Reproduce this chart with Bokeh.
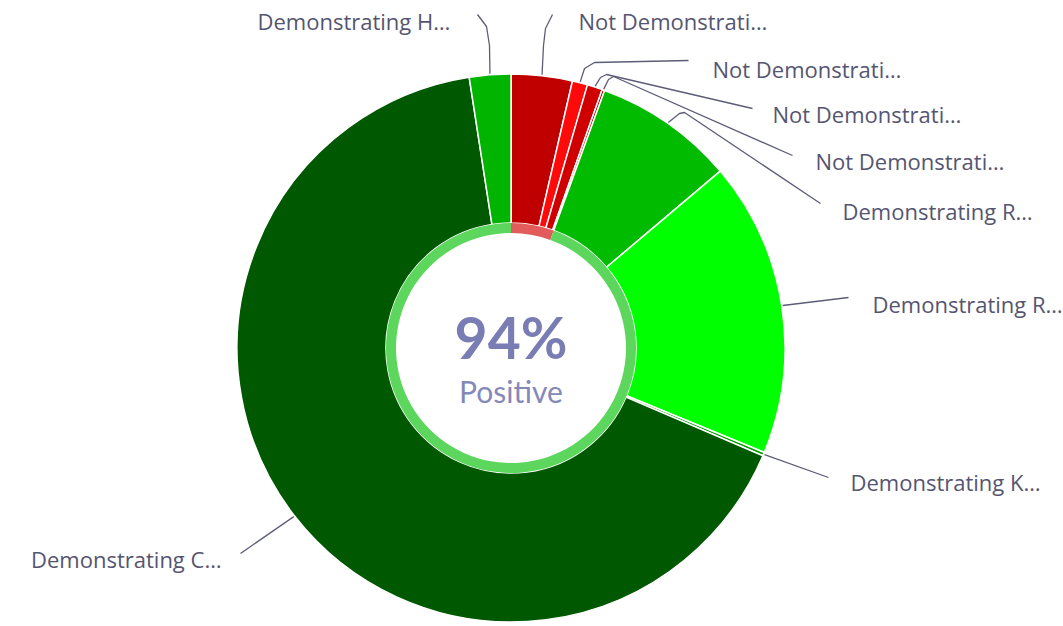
import math
from bokeh.plotting import figure
from bokeh.models import Range1d
from bokeh.embed import file_html
from bokeh.resources import INLINE
from bokeh.core.properties import value

# ---------------- data ----------------
labels = ["Not Demonstrati…", "Not Demonstrati…", "Not Demonstrati…", "Not Demonstrati…",
          "Demonstrating R…", "Demonstrating R…", "Demonstrating K…",
          "Demonstrating C…", "Demonstrating H…"]
values = [3.6, 0.9, 0.9, 0.15, 8.28, 17.4, 0.2, 66.13, 2.44]
positive = [False, False, False, False, True, True, True, True, True]
colors = ["#c00000", "#ff0a0a", "#d00000", "#b00000",
          "#00bb00", "#00ff00", "#00a000", "#005800", "#00b400"]
center_caption = "Positive"

# ---------------- layout (reference pixel coords, y down) ----------------
W, H = 1063, 626
CX, CY_REF = 510.5, 347.5
R_OUT, R_IN = 274, 125
RING_IN = 115
# label anchor (x, y, align) and connector intermediate points
label_pos = [(578, 20, "left"), (712, 68, "left"), (772, 113, "left"), (815, 160, "left"),
             (842, 210, "left"), (872, 303, "left"), (850, 481, "left"),
             (221, 558, "right"), (257, 20, "left")]
connector_mid = [
    [(543, 45), (545, 28), (552, 14)],
    [(584, 68), (594, 62), (688, 60)],
    [(600, 77), (606, 74), (752, 108)],
    [(608, 79), (613, 76), (792, 155)],
    [(679, 113), (684, 112), (820, 203)],
    [(848, 297)],
    [(828, 477)],
    [(240, 553)],
    [(489, 45), (486, 26), (477, 14)],
]

def yd(y_ref):
    return H - y_ref

CY = yd(CY_REF)

p = figure(width=W, height=H, output_backend="svg", toolbar_location=None,
           x_range=Range1d(0, W), y_range=Range1d(0, H),
           min_border=0, outline_line_color=None, background_fill_color="white")
p.axis.visible = False
p.grid.visible = False

total = sum(values)
cum = 0.0
mids = []
for v, c in zip(values, colors):
    a = cum / total
    b = (cum + v) / total
    cum += v
    mids.append((a + b) / 2)
    p.annular_wedge(x=CX, y=CY, inner_radius=R_IN, outer_radius=R_OUT,
                    start_angle=math.pi / 2 - b * 2 * math.pi,
                    end_angle=math.pi / 2 - a * 2 * math.pi,
                    direction="anticlock", fill_color=c,
                    line_color="white", line_width=1.5)

# inner ring: negative share vs positive share
neg = sum(v for v, pos in zip(values, positive) if not pos) / total
p.annular_wedge(x=CX, y=CY, inner_radius=RING_IN, outer_radius=R_IN,
                start_angle=math.pi / 2 - neg * 2 * math.pi, end_angle=math.pi / 2,
                direction="anticlock", fill_color="#e25c5c", line_color=None)
p.annular_wedge(x=CX, y=CY, inner_radius=RING_IN, outer_radius=R_IN,
                start_angle=math.pi / 2 - 2 * math.pi, end_angle=math.pi / 2 - neg * 2 * math.pi,
                direction="anticlock", fill_color="#5cd65c", line_color=None)

# connectors
xs, ys = [], []
for m, mids_pts in zip(mids, connector_mid):
    ang = m * 2 * math.pi
    sx = CX + (R_OUT + 1) * math.sin(ang)
    sy = CY_REF - (R_OUT + 1) * math.cos(ang)
    px = [sx] + [q[0] for q in mids_pts]
    py = [yd(sy)] + [yd(q[1]) for q in mids_pts]
    xs.append(px)
    ys.append(py)
p.multi_line(xs=xs, ys=ys, line_color="#5c5c78", line_width=1.3)

# labels
for (lx, ly, al), t in zip(label_pos, labels):
    p.text(x=[lx], y=[yd(ly)], text=[t], text_align=al, text_baseline="middle",
           text_font=value("Open Sans"), text_font_size="22px", text_color="#555570")

pos_pct = round(100 * sum(v for v, pos in zip(values, positive) if pos) / total)
p.text(x=[CX], y=[yd(336)], text=[f"{pos_pct}%"], text_align="center", text_baseline="middle",
       text_font=value("Lato"), text_font_style="bold", text_font_size="57px",
       text_color="#7a7db3")
p.text(x=[CX], y=[yd(390)], text=[center_caption], text_align="center", text_baseline="middle",
       text_font=value("Lato"), text_font_size="30px", text_color="#8589b8")

open("out.html", "w").write(file_html(p, INLINE))
